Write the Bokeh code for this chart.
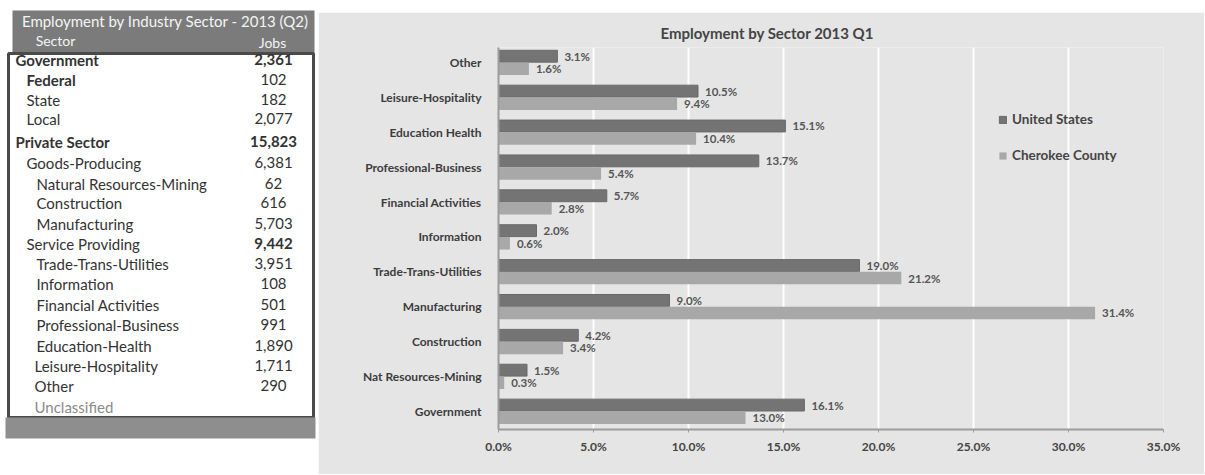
from bokeh.plotting import figure
from bokeh.layouts import row, column
from bokeh.models import (Range1d, FixedTicker, PrintfTickFormatter, ColumnDataSource,
                          Title, Spacer)
from bokeh.core.properties import value
from bokeh.embed import file_html
from bokeh.resources import INLINE

# ---------------- data ----------------
table_title = "Employment by Industry Sector - 2013 (Q2)"
table_sectors = ["Government", "Federal", "State", "Local", "Private Sector",
                 "Goods-Producing", "Natural Resources-Mining", "Construction",
                 "Manufacturing", "Service Providing", "Trade-Trans-Utilities",
                 "Information", "Financial Activities", "Professional-Business",
                 "Education-Health", "Leisure-Hospitality", "Other", "Unclassified"]
table_jobs = ["2,361", "102", "182", "2,077", "15,823", "6,381", "62", "616", "5,703",
              "9,442", "3,951", "108", "501", "991", "1,890", "1,711", "290", ""]
table_levels = [0, 1, 1, 1, 0, 1, 2, 2, 2, 1, 2, 2, 2, 2, 2, 2, 2, 2]
bold_sectors = ["Government", "Federal", "Private Sector"]
bold_jobs = ["2,361", "15,823", "9,442"]

chart_title = "Employment by Sector  2013 Q1"
categories = ["Government", "Nat Resources-Mining", "Construction", "Manufacturing",
              "Trade-Trans-Utilities", "Information", "Financial Activities",
              "Professional-Business", "Education Health", "Leisure-Hospitality", "Other"]
us_pct = [16.1, 1.5, 4.2, 9.0, 19.0, 2.0, 5.7, 13.7, 15.1, 10.5, 3.1]
cherokee_pct = [13.0, 0.3, 3.4, 31.4, 21.2, 0.6, 2.8, 5.4, 10.4, 9.4, 1.6]
x_ticks = [0, 5, 10, 15, 20, 25, 30, 35]

FONT = value("Lato")

# ---------------- table figure ----------------
TW, TH = 318, 474
t = figure(width=TW, height=TH, x_range=Range1d(0, TW), y_range=Range1d(TH, 0),
           output_backend="svg", toolbar_location=None, min_border=0)
t.axis.visible = False
t.grid.visible = False
t.outline_line_color = None
t.background_fill_color = "white"
t.border_fill_color = "white"
if hasattr(t, "frame_align"):
    t.frame_align = False

# header
t.quad(left=[12], right=[314], top=[10], bottom=[53], fill_color="#7b7b7b", line_color=None)
# body
t.quad(left=[8], right=[313], top=[53], bottom=[417], fill_color="white",
       line_color="#4a4a4a", line_width=3)
# bottom strip
t.quad(left=[5], right=[315], top=[417], bottom=[438], fill_color="#8e8e8e", line_color=None)

t.text(x=[165], y=[20], text=[table_title], text_font=FONT, text_font_size="15px",
       text_color="#f4f4f4", text_align="center", text_baseline="middle")
t.text(x=[55, 272], y=[40, 42], text=["Sector", "Jobs"], text_font=FONT,
       text_font_size="14px", text_color="#f4f4f4", text_align="center",
       text_baseline="middle")

row_y = [59, 79, 99, 118, 141, 162, 183, 202, 223, 243, 263, 283, 304, 324, 345, 365, 385, 406]
level_x = {0: 15, 1: 26, 2: 36}
for i, (name, jobs, lvl) in enumerate(zip(table_sectors, table_jobs, table_levels)):
    color = "#8a8a8a" if name == "Unclassified" else "#333333"
    t.text(x=[level_x[lvl] - (2 if name in ("Other", "Unclassified", "Leisure-Hospitality") else 0)],
           y=[row_y[i]], text=[name], text_font=FONT,
           text_font_size="15px", text_color=color,
           text_font_style="bold" if name in bold_sectors else "normal",
           text_align="left", text_baseline="middle")
    if jobs:
        t.text(x=[273], y=[row_y[i]], text=[jobs], text_font=FONT, text_font_size="15px",
               text_color="#333333",
               text_font_style="bold" if jobs in bold_jobs else "normal",
               text_align="center", text_baseline="middle")

# ---------------- chart figure ----------------
CW, CH = 886, 462
BG = "#e5e5e5"
p = figure(width=CW, height=CH, x_range=Range1d(0, 35), y_range=Range1d(-0.52, 10.43),
           output_backend="svg", toolbar_location=None,
           min_border_left=180, min_border_right=41, min_border_top=35, min_border_bottom=45)
p.background_fill_color = BG
p.border_fill_color = BG
p.outline_line_color = None
if hasattr(p, "frame_align"):
    p.frame_align = False

idx = list(range(len(categories)))
src = ColumnDataSource(dict(
    y_us=[i + 0.18 for i in idx], y_ch=[i - 0.18 for i in idx],
    us=us_pct, ch=cherokee_pct,
    us_lbl=[f"{v:.1f}%" for v in us_pct], ch_lbl=[f"{v:.1f}%" for v in cherokee_pct]))

p.hbar(y="y_us", right="us", left=0, height=0.34, source=src, fill_color="#747474",
       line_color="#6a6a6a", legend_label="United States")
p.hbar(y="y_ch", right="ch", left=0, height=0.36, source=src, fill_color="#a8a8a8",
       line_color=None, legend_label="Cherokee County")

p.text(x="us", y="y_us", text="us_lbl", source=src, x_offset=7, text_font=FONT,
       text_font_size="11.5px", text_font_style="bold", text_color="#555555",
       text_baseline="middle")
p.text(x="ch", y="y_ch", text="ch_lbl", source=src, x_offset=7, text_font=FONT,
       text_font_size="11.5px", text_font_style="bold", text_color="#555555",
       text_baseline="middle")

p.add_layout(Title(text=chart_title, align="left", offset=162, text_font="Lato",
                   text_font_size="15px", text_font_style="bold", text_color="#444444",
                   standoff=11), "above")

p.xaxis.ticker = FixedTicker(ticks=x_ticks)
p.xaxis.formatter = PrintfTickFormatter(format="%.1f%%")
p.xaxis.axis_line_color = "#9c9c9c"
p.xaxis.axis_line_width = 2
p.xaxis.major_tick_line_color = "#9c9c9c"
p.xaxis.major_tick_in = 0
p.xaxis.major_tick_out = 3
p.xaxis.minor_tick_line_color = None
p.xaxis.major_label_text_font = "Lato"
p.xaxis.major_label_text_font_size = "12px"
p.xaxis.major_label_text_font_style = "bold"
p.xaxis.major_label_text_color = "#444444"
p.xaxis.major_label_standoff = 6

p.yaxis.ticker = FixedTicker(ticks=idx)
p.yaxis.major_label_overrides = {i: c for i, c in enumerate(categories)}
p.yaxis.axis_line_color = "#9c9c9c"
p.yaxis.axis_line_width = 2
p.yaxis.major_tick_line_color = None
p.yaxis.minor_tick_line_color = None
p.yaxis.major_label_text_font = "Lato"
p.yaxis.major_label_text_font_size = "12px"
p.yaxis.major_label_text_font_style = "bold"
p.yaxis.major_label_text_color = "#3c3c3c"
p.yaxis.major_label_standoff = 11

p.xgrid.grid_line_color = "white"
p.xgrid.grid_line_width = 2
p.xgrid.ticker = FixedTicker(ticks=x_ticks)
p.ygrid.grid_line_color = None

p.legend.location = (500, 266)
p.legend.background_fill_alpha = 0
p.legend.border_line_color = None
p.legend.glyph_width = 9
p.legend.glyph_height = 9
p.legend.label_text_font = "Lato"
p.legend.label_text_font_size = "13.5px"
p.legend.label_text_font_style = "bold"
p.legend.label_text_color = "#444444"
p.legend.spacing = 20
p.legend.padding = 0
p.legend.margin = 0

layout = row(column(t), column(Spacer(width=CW, height=12), p))
open("out.html", "w").write(file_html(layout, INLINE))
